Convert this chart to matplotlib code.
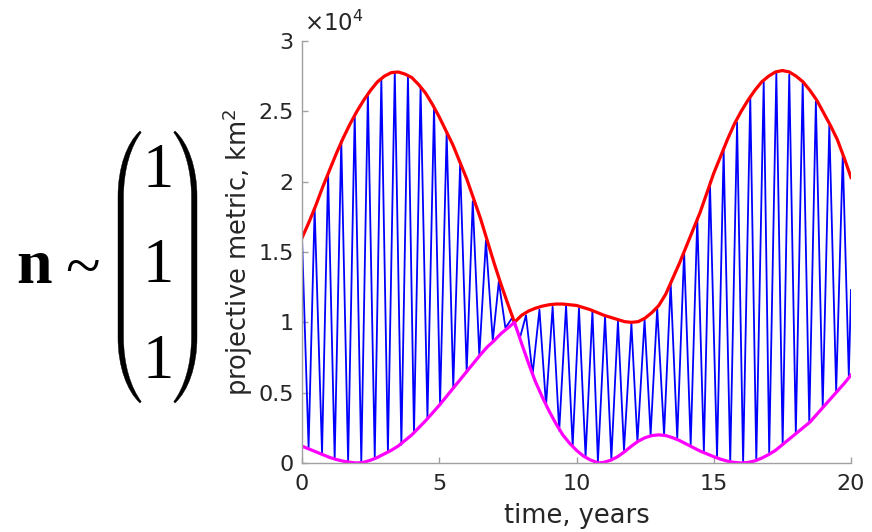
import numpy as np
import matplotlib
matplotlib.use("Agg")
import matplotlib.pyplot as plt
from matplotlib.path import Path
from matplotlib.patches import PathPatch
from matplotlib.ticker import FuncFormatter

SCALE = 1e4  # values below are in units of 10^4 km^2

# ---- data ----
upper_t = [0, 0.25, 0.5, 0.75, 1.0, 1.25, 1.5, 1.75, 2.0, 2.25, 2.5, 2.75, 3.0, 3.25, 3.5, 3.75,
           4.0, 4.25, 4.5, 4.75, 5.0, 5.25, 5.5, 5.75, 6.0, 6.25, 6.5, 6.75, 7.0, 7.25, 7.5, 7.74,
           8.0, 8.25, 8.5, 8.75, 9.0, 9.25, 9.5, 9.75, 10.0, 10.25, 10.5, 10.75, 11.0, 11.25, 11.5,
           11.75, 12.0, 12.25, 12.5, 12.75, 13.0, 13.25, 13.5, 13.75, 14.0, 14.25, 14.5, 14.75,
           15.0, 15.25, 15.5, 15.75, 16.0, 16.25, 16.5, 16.75, 17.0, 17.25, 17.5, 17.75, 18.0,
           18.25, 18.5, 18.75, 19.0, 19.25, 19.5, 19.75, 20.0]
upper_v = [1.60, 1.71, 1.83, 1.96, 2.08, 2.20, 2.31, 2.41, 2.50, 2.58, 2.65, 2.71, 2.75, 2.775,
           2.78, 2.765, 2.74, 2.69, 2.63, 2.55, 2.46, 2.36, 2.26, 2.14, 2.02, 1.88, 1.74, 1.58,
           1.42, 1.27, 1.13, 1.00, 1.05, 1.08, 1.10, 1.115, 1.125, 1.13, 1.13, 1.125, 1.12, 1.105,
           1.09, 1.07, 1.05, 1.035, 1.02, 1.005, 1.00, 1.005, 1.03, 1.07, 1.12, 1.20, 1.31, 1.42,
           1.54, 1.66, 1.78, 1.92, 2.06, 2.18, 2.30, 2.41, 2.50, 2.58, 2.65, 2.71, 2.75, 2.78,
           2.79, 2.78, 2.75, 2.71, 2.65, 2.58, 2.49, 2.40, 2.30, 2.17, 2.03]

lower_t = [0, 0.25, 0.5, 0.75, 1.0, 1.25, 1.5, 1.75, 2.0, 2.25, 2.5, 2.75, 3.0, 3.25, 3.5, 3.75,
           4.0, 4.25, 4.5, 4.75, 5.0, 5.25, 5.5, 5.75, 6.0, 6.25, 6.5, 6.75, 7.0, 7.25, 7.5, 7.74,
           8.0, 8.25, 8.5, 8.75, 9.0, 9.25, 9.5, 9.75, 10.0, 10.25, 10.5, 10.8, 11.0, 11.25, 11.5,
           11.75, 12.0, 12.25, 12.5, 12.75, 13.0, 13.25, 13.5, 13.75, 14.0, 14.25, 14.5, 14.75,
           15.0, 15.25, 15.5, 15.75, 16.0, 16.25, 16.5, 16.75, 17.0, 17.25, 17.5, 17.75, 18.0,
           18.25, 18.5, 18.75, 19.0, 19.25, 19.5, 19.75, 20.0]
lower_v = [0.12, 0.10, 0.08, 0.06, 0.04, 0.025, 0.013, 0.005, 0.0, 0.005, 0.02, 0.04, 0.065, 0.09,
           0.12, 0.16, 0.20, 0.25, 0.30, 0.355, 0.41, 0.47, 0.53, 0.59, 0.65, 0.71, 0.77, 0.825,
           0.87, 0.92, 0.96, 1.00, 0.85, 0.71, 0.58, 0.47, 0.37, 0.28, 0.20, 0.14, 0.09, 0.05,
           0.022, 0.0, 0.005, 0.02, 0.045, 0.08, 0.12, 0.155, 0.18, 0.195, 0.20, 0.195, 0.18, 0.16,
           0.135, 0.11, 0.085, 0.065, 0.045, 0.027, 0.013, 0.004, 0.0, 0.004, 0.015, 0.035, 0.06,
           0.09, 0.13, 0.17, 0.21, 0.25, 0.29, 0.345, 0.40, 0.455, 0.51, 0.565, 0.625]

blue_start = (0.0, 1.60)
blue_end = (20.0, 1.23)
peak_t = [0.46, 0.95, 1.43, 1.92, 2.40, 2.89, 3.38, 3.86, 4.32, 4.81, 5.27, 5.76, 6.22, 6.70, 7.17,
          7.65, 8.16, 8.65, 9.13, 9.62, 10.09, 10.58, 11.04, 11.51, 12.00, 12.48, 12.94, 13.43,
          13.92, 14.40, 14.86, 15.36, 15.85, 16.33, 16.82, 17.28, 17.75, 18.24, 18.72, 19.21, 19.70]
peak_v = [1.81, 2.06, 2.29, 2.48, 2.63, 2.73, 2.78, 2.75, 2.67, 2.53, 2.35, 2.12, 1.86, 1.58, 1.29,
          1.03, 1.05, 1.09, 1.11, 1.12, 1.10, 1.08, 1.04, 1.01, 0.99, 1.02, 1.10, 1.28, 1.50, 1.74,
          2.00, 2.22, 2.42, 2.60, 2.71, 2.77, 2.76, 2.70, 2.57, 2.40, 2.19]
trough_t = [0.24, 0.73, 1.19, 1.68, 2.16, 2.65, 3.13, 3.62, 4.08, 4.57, 5.03, 5.51, 6.00, 6.46, 6.95,
            7.41, 7.94, 8.40, 8.89, 9.37, 9.86, 10.33, 10.78, 11.27, 11.73, 12.22, 12.70, 13.19,
            13.67, 14.16, 14.64, 15.12, 15.60, 16.07, 16.55, 17.02, 17.51, 17.99, 18.48, 18.97,
            19.46, 19.92]
trough_v = [0.11, 0.07, 0.03, 0.01, 0.01, 0.045, 0.08, 0.13, 0.21, 0.32, 0.42, 0.54, 0.65, 0.76, 0.87,
            0.96, 0.89, 0.63, 0.41, 0.23, 0.12, 0.045, 0.01, 0.03, 0.09, 0.15, 0.20, 0.20, 0.175,
            0.13, 0.08, 0.045, 0.01, 0.005, 0.02, 0.07, 0.13, 0.21, 0.29, 0.40, 0.51, 0.62]

x_ticks = [0, 5, 10, 15, 20]
y_ticks = [0, 0.5, 1, 1.5, 2, 2.5, 3]

# ---- build blue series ----
pts = [blue_start] + list(zip(peak_t, peak_v)) + list(zip(trough_t, trough_v)) + [blue_end]
pts.sort(key=lambda p: p[0])
bt = np.array([p[0] for p in pts])
bv = np.array([p[1] for p in pts]) * SCALE

W, H = 872, 532
fig = plt.figure(figsize=(W / 100, H / 100), dpi=100)
ax = fig.add_axes([302 / W, 1 - 463 / H, (851 - 302) / W, (463 - 41) / H])

ax.plot(bt, bv, color="#0000ff", lw=1.3, solid_joinstyle="round")
ax.plot(upper_t, np.array(upper_v) * SCALE, color="#ff0000", lw=2.3, solid_joinstyle="round")
ax.plot(lower_t, np.array(lower_v) * SCALE, color="#ff00ff", lw=2.3, solid_joinstyle="round")

ax.set_xlim(0, 20)
ax.set_ylim(0, 3 * SCALE)
ax.set_xticks(x_ticks)
ax.set_yticks([v * SCALE for v in y_ticks])
ax.yaxis.set_major_formatter(FuncFormatter(lambda v, p: f"{v / SCALE:g}"))

gray = "#a0a0a0"
txt = "#262626"
for s in ["top", "right"]:
    ax.spines[s].set_visible(False)
for s in ["left", "bottom"]:
    ax.spines[s].set_color(gray)
    ax.spines[s].set_linewidth(1.0)
ax.tick_params(direction="in", length=4, width=1.0, color=gray, labelcolor=txt, labelsize=16)
ax.tick_params(axis="x", pad=8)
ax.tick_params(axis="y", pad=6)

ax.set_xlabel("time, years", fontsize=18.5, color=txt)
ax.xaxis.set_label_coords(0.5, -0.094)
ax.set_ylabel("projective metric, km$^2$", fontsize=18.5, color=txt)
ax.yaxis.set_label_coords(-0.086, 0.5)
ax.text(0.004, 1.012, r"$\times$10$^4$", transform=ax.transAxes, fontsize=16.5, color=txt,
        ha="left", va="bottom")

# ---- left-hand expression: n ~ (1, 1, 1) ----
def fx(x):
    return x / W


def fy(y):
    return 1 - y / H


fig.text(fx(16), fy(283), "n", family="Liberation Serif", weight="bold", fontsize=46,
         ha="left", va="baseline")
fig.text(fx(82), fy(272), "~", family="Liberation Serif", fontsize=46, ha="center", va="center")
for yb in (187, 282, 378):
    fig.text(fx(158), fy(yb), "1", family="Liberation Serif", fontsize=45, ha="center",
             va="baseline")


def paren(x_out, x_tip, top, bot, t_mid=5.5, t_end=1.2):
    s = 1 if x_tip > x_out else -1
    yc1, yc2 = top + 66, bot - 66
    xi = x_out + s * t_mid
    verts = [
        (x_tip, top),
        (x_tip - s * 13, top + 12), (x_out, top + 36), (x_out, yc1),
        (x_out, yc2),
        (x_out, bot - 36), (x_tip - s * 13, bot - 12), (x_tip, bot),
        (x_tip + s * t_end, bot - 1.5),
        (x_tip - s * 9, bot - 15), (xi, bot - 38), (xi, yc2),
        (xi, yc1),
        (xi, top + 38), (x_tip - s * 9, top + 15), (x_tip + s * t_end, top + 1.5),
        (x_tip, top),
    ]
    codes = [Path.MOVETO,
             Path.CURVE4, Path.CURVE4, Path.CURVE4,
             Path.LINETO,
             Path.CURVE4, Path.CURVE4, Path.CURVE4,
             Path.LINETO,
             Path.CURVE4, Path.CURVE4, Path.CURVE4,
             Path.LINETO,
             Path.CURVE4, Path.CURVE4, Path.CURVE4,
             Path.CLOSEPOLY]
    verts = [(fx(a), fy(b)) for a, b in verts]
    fig.add_artist(PathPatch(Path(verts, codes), transform=fig.transFigure,
                             facecolor="black", edgecolor="black", lw=0.3))


paren(118, 140, 131, 403)
paren(197, 175, 131, 403)

fig.savefig("out.png", dpi=100)
